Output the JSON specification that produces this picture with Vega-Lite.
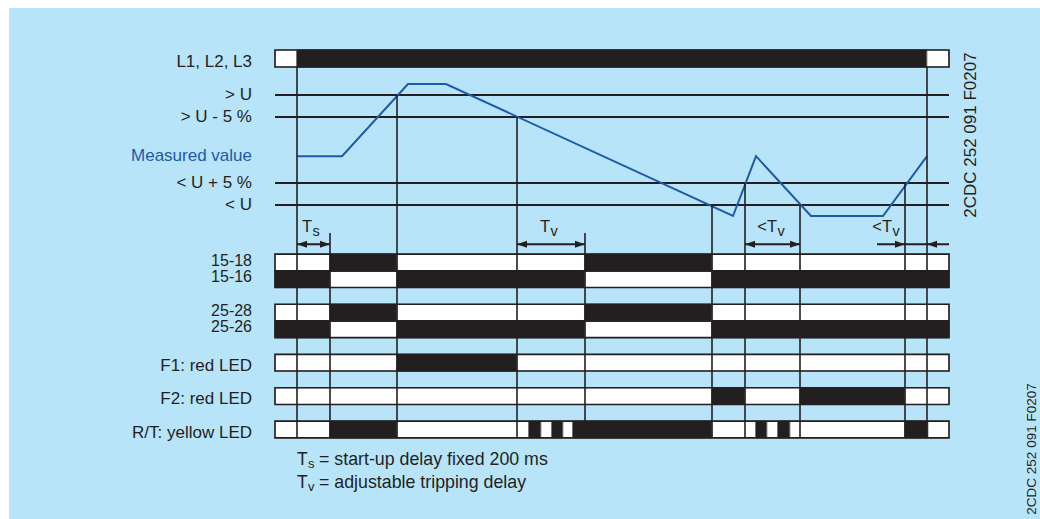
{
  "$schema": "https://vega.github.io/schema/vega-lite/v6.json",
  "width": 1031,
  "height": 511,
  "autosize": {"type": "none"},
  "padding": {"left": 9, "top": 8, "right": 0, "bottom": 0},
  "background": "#ffffff",
  "config": {
    "view": {"fill": "#b8e4f9", "stroke": null},
    "text": {"font": "Liberation Sans", "color": "#231f20", "fontSize": 17}
  },
  "datasets": {
    "thresholds": [
      {"label": "> U", "level": 110, "kind": "limit"},
      {"label": "> U - 5 %", "level": 105, "kind": "limit"},
      {"label": "Measured value", "level": 96.1, "kind": "signal"},
      {"label": "< U + 5 %", "level": 90, "kind": "limit"},
      {"label": "< U", "level": 85, "kind": "limit"}
    ],
    "measured": [
      {"t": 22, "level": 96.1},
      {"t": 67, "level": 96.1},
      {"t": 133, "level": 112.5},
      {"t": 171, "level": 112.5},
      {"t": 458, "level": 82.5},
      {"t": 481, "level": 96.1},
      {"t": 536, "level": 82.5},
      {"t": 608, "level": 82.5},
      {"t": 652, "level": 96.1}
    ],
    "events": [
      {"t": 22, "level": 116.4},
      {"t": 55, "level": 78.64},
      {"t": 122, "level": 110},
      {"t": 242, "level": 105},
      {"t": 310, "level": 78.64},
      {"t": 437, "level": 85},
      {"t": 470, "level": 90},
      {"t": 525, "level": 85},
      {"t": 630, "level": 90},
      {"t": 652, "level": 116.4}
    ],
    "supply": [
      {"lane": "L1, L2, L3", "t": 0, "t2": 22, "state": "off"},
      {"lane": "L1, L2, L3", "t": 22, "t2": 652, "state": "on"},
      {"lane": "L1, L2, L3", "t": 652, "t2": 674, "state": "off"}
    ],
    "lanes": [
      {"lane": "L1, L2, L3", "group": "supply"},
      {"lane": "15-18", "group": "contact"},
      {"lane": "15-16", "group": "contact"},
      {"lane": "25-28", "group": "contact"},
      {"lane": "25-26", "group": "contact"},
      {"lane": "F1: red LED", "group": "led"},
      {"lane": "F2: red LED", "group": "led"},
      {"lane": "R/T: yellow LED", "group": "led"}
    ],
    "signals": [
      {"lane": "15-18", "t": 0, "t2": 55, "state": "off"},
      {"lane": "15-18", "t": 55, "t2": 122, "state": "on"},
      {"lane": "15-18", "t": 122, "t2": 310, "state": "off"},
      {"lane": "15-18", "t": 310, "t2": 437, "state": "on"},
      {"lane": "15-18", "t": 437, "t2": 674, "state": "off"},
      {"lane": "15-16", "t": 0, "t2": 55, "state": "on"},
      {"lane": "15-16", "t": 55, "t2": 122, "state": "off"},
      {"lane": "15-16", "t": 122, "t2": 310, "state": "on"},
      {"lane": "15-16", "t": 310, "t2": 437, "state": "off"},
      {"lane": "15-16", "t": 437, "t2": 674, "state": "on"},
      {"lane": "25-28", "t": 0, "t2": 55, "state": "off"},
      {"lane": "25-28", "t": 55, "t2": 122, "state": "on"},
      {"lane": "25-28", "t": 122, "t2": 310, "state": "off"},
      {"lane": "25-28", "t": 310, "t2": 437, "state": "on"},
      {"lane": "25-28", "t": 437, "t2": 674, "state": "off"},
      {"lane": "25-26", "t": 0, "t2": 55, "state": "on"},
      {"lane": "25-26", "t": 55, "t2": 122, "state": "off"},
      {"lane": "25-26", "t": 122, "t2": 310, "state": "on"},
      {"lane": "25-26", "t": 310, "t2": 437, "state": "off"},
      {"lane": "25-26", "t": 437, "t2": 674, "state": "on"},
      {"lane": "F1: red LED", "t": 0, "t2": 122, "state": "off"},
      {"lane": "F1: red LED", "t": 122, "t2": 242, "state": "on"},
      {"lane": "F1: red LED", "t": 242, "t2": 674, "state": "off"},
      {"lane": "F2: red LED", "t": 0, "t2": 437, "state": "off"},
      {"lane": "F2: red LED", "t": 437, "t2": 470, "state": "on"},
      {"lane": "F2: red LED", "t": 470, "t2": 525, "state": "off"},
      {"lane": "F2: red LED", "t": 525, "t2": 630, "state": "on"},
      {"lane": "F2: red LED", "t": 630, "t2": 674, "state": "off"},
      {"lane": "R/T: yellow LED", "t": 0, "t2": 55, "state": "off"},
      {"lane": "R/T: yellow LED", "t": 55, "t2": 122, "state": "on"},
      {"lane": "R/T: yellow LED", "t": 122, "t2": 254, "state": "off"},
      {"lane": "R/T: yellow LED", "t": 254, "t2": 266, "state": "on"},
      {"lane": "R/T: yellow LED", "t": 266, "t2": 277, "state": "off"},
      {"lane": "R/T: yellow LED", "t": 277, "t2": 288, "state": "on"},
      {"lane": "R/T: yellow LED", "t": 288, "t2": 298, "state": "off"},
      {"lane": "R/T: yellow LED", "t": 298, "t2": 437, "state": "on"},
      {"lane": "R/T: yellow LED", "t": 437, "t2": 481, "state": "off"},
      {"lane": "R/T: yellow LED", "t": 481, "t2": 492, "state": "on"},
      {"lane": "R/T: yellow LED", "t": 492, "t2": 503, "state": "off"},
      {"lane": "R/T: yellow LED", "t": 503, "t2": 515, "state": "on"},
      {"lane": "R/T: yellow LED", "t": 515, "t2": 630, "state": "off"},
      {"lane": "R/T: yellow LED", "t": 630, "t2": 653, "state": "on"},
      {"lane": "R/T: yellow LED", "t": 653, "t2": 674, "state": "off"}
    ],
    "spans": [
      {"lane": "arrow", "t": 22, "t2": 55},
      {"lane": "arrow", "t": 242, "t2": 310},
      {"lane": "arrow", "t": 470, "t2": 525},
      {"lane": "arrow", "t": 602, "t2": 674}
    ],
    "heads": [
      {"lane": "arrow", "t": 22, "dir": "left"},
      {"lane": "arrow", "t": 55, "dir": "right"},
      {"lane": "arrow", "t": 242, "dir": "left"},
      {"lane": "arrow", "t": 310, "dir": "right"},
      {"lane": "arrow", "t": 470, "dir": "left"},
      {"lane": "arrow", "t": 525, "dir": "right"},
      {"lane": "arrow", "t": 630, "dir": "right"},
      {"lane": "arrow", "t": 652, "dir": "left"}
    ],
    "delays": [
      {"lane": "Tlabel", "t": 37, "main": "T", "sub": "s"},
      {"lane": "Tlabel", "t": 275, "main": "T", "sub": "v"},
      {"lane": "Tlabel", "t": 502, "main": "<T", "sub": "v"},
      {"lane": "Tlabel", "t": 617, "main": "<T", "sub": "v"}
    ],
    "notes": [
      {"name": "Ts", "sym": "T", "sub": "s", "text": "= start-up delay fixed 200 ms"},
      {"name": "Tv", "sym": "T", "sub": "v", "text": "= adjustable tripping delay"}
    ],
    "codes": [
      {"code": "2CDC 252 091 F0207"}
    ]
  },
  "layer": [
    {
      "encoding": {
        "y": {"field": "level", "type": "quantitative", "scale": {"domain": [13.636, 129.773], "nice": false, "zero": false}, "axis": null}
      },
      "layer": [
        {
          "data": {"name": "thresholds"},
          "transform": [{"filter": "datum.kind === 'limit'"}],
          "mark": {"type": "rule", "color": "#231f20", "strokeWidth": 2},
          "encoding": {
            "x": {"datum": 0, "type": "quantitative", "scale": {"domain": [-266, 765], "nice": false, "zero": false}, "axis": null},
            "x2": {"datum": 674}
          }
        },
        {
          "data": {"name": "thresholds"},
          "mark": {"type": "text", "align": "right", "baseline": "middle", "dx": -23, "fontSize": 17},
          "encoding": {
            "x": {"datum": 0, "type": "quantitative", "scale": {"domain": [-266, 765], "nice": false, "zero": false}, "axis": null},
            "text": {"field": "label"},
            "color": {"condition": {"test": "datum.kind === 'signal'", "value": "#1d5aa8"}, "value": "#231f20"}
          }
        },
        {
          "data": {"name": "measured"},
          "mark": {"type": "line", "color": "#1d5aa8", "strokeWidth": 2},
          "encoding": {
            "x": {"field": "t", "type": "quantitative", "scale": {"domain": [-266, 765], "nice": false, "zero": false}, "axis": null}
          }
        }
      ]
    },
    {
      "encoding": {
        "y": {"field": "lane", "type": "nominal", "scale": {"domain": ["L1, L2, L3"], "range": [42, 59], "paddingInner": 0, "paddingOuter": 0}, "axis": null}
      },
      "layer": [
        {
          "data": {"name": "supply"},
          "mark": {"type": "rect", "strokeWidth": 1},
          "encoding": {
            "x": {"field": "t", "type": "quantitative", "scale": {"domain": [-266, 765], "nice": false, "zero": false}, "axis": null},
            "x2": {"field": "t2"},
            "fill": {"field": "state", "type": "nominal", "scale": {"domain": ["off", "on"], "range": ["#ffffff", "#231f20"]}, "legend": null},
            "stroke": {"field": "state", "type": "nominal", "scale": {"domain": ["off", "on"], "range": ["#939598", "#231f20"]}, "legend": null}
          }
        },
        {
          "data": {"name": "lanes"},
          "transform": [{"filter": "datum.group === 'supply'"}],
          "mark": {"type": "rect", "fillOpacity": 0, "stroke": "#231f20", "strokeWidth": 1.6},
          "encoding": {
            "x": {"datum": 0, "type": "quantitative", "scale": {"domain": [-266, 765], "nice": false, "zero": false}, "axis": null},
            "x2": {"datum": 674}
          }
        },
        {
          "data": {"name": "lanes"},
          "transform": [{"filter": "datum.group === 'supply'"}],
          "mark": {"type": "text", "align": "right", "baseline": "middle", "dx": -23, "dy": 3, "fontSize": 17, "color": "#231f20"},
          "encoding": {
            "x": {"datum": 0, "type": "quantitative", "scale": {"domain": [-266, 765], "nice": false, "zero": false}, "axis": null},
            "text": {"field": "lane"}
          }
        }
      ]
    },
    {
      "encoding": {
        "y": {
          "field": "lane", "type": "nominal",
          "scale": {
            "domain": ["Tlabel", "arrow", "15-18", "15-16", "gap1", "25-28", "25-26", "gap2", "F1: red LED", "gap3", "F2: red LED", "gap4", "R/T: yellow LED"],
            "range": [212.75, 429.85], "paddingInner": 0, "paddingOuter": 0
          },
          "axis": null
        }
      },
      "layer": [
        {
          "data": {"name": "signals"},
          "mark": {"type": "rect", "strokeWidth": 1},
          "encoding": {
            "x": {"field": "t", "type": "quantitative", "scale": {"domain": [-266, 765], "nice": false, "zero": false}, "axis": null},
            "x2": {"field": "t2"},
            "fill": {"field": "state", "type": "nominal", "scale": {"domain": ["off", "on"], "range": ["#ffffff", "#231f20"]}, "legend": null},
            "stroke": {"field": "state", "type": "nominal", "scale": {"domain": ["off", "on"], "range": ["#939598", "#231f20"]}, "legend": null}
          }
        },
        {
          "data": {"name": "lanes"},
          "transform": [{"filter": "datum.group !== 'supply'"}],
          "mark": {"type": "rect", "fillOpacity": 0, "stroke": "#231f20", "strokeWidth": 1.6},
          "encoding": {
            "x": {"datum": 0, "type": "quantitative", "scale": {"domain": [-266, 765], "nice": false, "zero": false}, "axis": null},
            "x2": {"datum": 674}
          }
        },
        {
          "data": {"name": "lanes"},
          "transform": [{"filter": "datum.group === 'contact'"}],
          "mark": {"type": "text", "align": "right", "baseline": "middle", "dx": -23, "dy": -2, "fontSize": 16, "color": "#231f20"},
          "encoding": {
            "x": {"datum": 0, "type": "quantitative", "scale": {"domain": [-266, 765], "nice": false, "zero": false}, "axis": null},
            "text": {"field": "lane"}
          }
        },
        {
          "data": {"name": "lanes"},
          "transform": [{"filter": "datum.group === 'led'"}],
          "mark": {"type": "text", "align": "right", "baseline": "middle", "dx": -23, "dy": 3, "fontSize": 17, "color": "#231f20"},
          "encoding": {
            "x": {"datum": 0, "type": "quantitative", "scale": {"domain": [-266, 765], "nice": false, "zero": false}, "axis": null},
            "text": {"field": "lane"}
          }
        },
        {
          "data": {"name": "spans"},
          "mark": {"type": "rule", "color": "#231f20", "strokeWidth": 2},
          "encoding": {
            "x": {"field": "t", "type": "quantitative", "scale": {"domain": [-266, 765], "nice": false, "zero": false}, "axis": null},
            "x2": {"field": "t2"},
            "y": {"field": "lane", "type": "nominal", "bandPosition": 0.41}
          }
        },
        {
          "data": {"name": "heads"},
          "mark": {"type": "point", "filled": true, "color": "#231f20", "opacity": 1, "size": 100, "strokeWidth": 0},
          "encoding": {
            "x": {"field": "t", "type": "quantitative", "scale": {"domain": [-266, 765], "nice": false, "zero": false}, "axis": null},
            "y": {"field": "lane", "type": "nominal", "bandPosition": 0.41},
            "shape": {"field": "dir", "type": "nominal", "scale": {"domain": ["left", "right"], "range": ["M0,0L2,-0.7L2,0.7Z", "M0,0L-2,-0.7L-2,0.7Z"]}, "legend": null}
          }
        },
        {
          "data": {"name": "delays"},
          "mark": {"type": "text", "align": "right", "baseline": "alphabetic", "dy": 3, "fontSize": 16.5, "color": "#231f20"},
          "encoding": {
            "x": {"field": "t", "type": "quantitative", "scale": {"domain": [-266, 765], "nice": false, "zero": false}, "axis": null},
            "text": {"field": "main"}
          }
        },
        {
          "data": {"name": "delays"},
          "mark": {"type": "text", "align": "left", "baseline": "alphabetic", "dx": 0.5, "dy": 7, "fontSize": 14.5, "color": "#231f20"},
          "encoding": {
            "x": {"field": "t", "type": "quantitative", "scale": {"domain": [-266, 765], "nice": false, "zero": false}, "axis": null},
            "text": {"field": "sub"}
          }
        }
      ]
    },
    {
      "data": {"name": "notes"},
      "encoding": {
        "x": {"datum": 22, "type": "quantitative", "scale": {"domain": [-266, 765], "nice": false, "zero": false}, "axis": null},
        "y": {"field": "name", "type": "nominal", "scale": {"domain": ["Ts", "Tv"], "range": [445.65, 491.05], "paddingInner": 0, "paddingOuter": 0}, "axis": null}
      },
      "layer": [
        {
          "mark": {"type": "text", "align": "left", "baseline": "alphabetic", "fontSize": 17.5, "color": "#231f20"},
          "encoding": {"text": {"field": "sym"}}
        },
        {
          "mark": {"type": "text", "align": "left", "baseline": "alphabetic", "dx": 11, "dy": 3, "fontSize": 13, "color": "#231f20"},
          "encoding": {"text": {"field": "sub"}}
        },
        {
          "mark": {"type": "text", "align": "left", "baseline": "alphabetic", "dx": 22, "fontSize": 17.8, "color": "#231f20"},
          "encoding": {"text": {"field": "text"}}
        }
      ]
    },
    {
      "data": {"name": "events"},
      "mark": {"type": "rule", "color": "#231f20", "strokeWidth": 1.6},
      "encoding": {
        "x": {"field": "t", "type": "quantitative", "scale": {"domain": [-266, 765], "nice": false, "zero": false}, "axis": null},
        "y": {"field": "level", "type": "quantitative", "scale": {"domain": [13.636, 129.773], "nice": false, "zero": false}, "axis": null},
        "y2": {"datum": 32.05}
      }
    },
    {
      "data": {"name": "codes"},
      "mark": {"type": "text", "angle": 270, "align": "center", "baseline": "middle", "fontSize": 17, "color": "#231f20"},
      "encoding": {
        "x": {"datum": 696, "type": "quantitative", "scale": {"domain": [-266, 765], "nice": false, "zero": false}, "axis": null},
        "y": {"datum": 100.9, "type": "quantitative", "scale": {"domain": [13.636, 129.773], "nice": false, "zero": false}, "axis": null},
        "text": {"field": "code"}
      }
    },
    {
      "data": {"name": "codes"},
      "mark": {"type": "text", "angle": 270, "align": "center", "baseline": "middle", "fontSize": 13.5, "color": "#231f20"},
      "encoding": {
        "x": {"datum": 757, "type": "quantitative", "scale": {"domain": [-266, 765], "nice": false, "zero": false}, "axis": null},
        "y": {"datum": 29.55, "type": "quantitative", "scale": {"domain": [13.636, 129.773], "nice": false, "zero": false}, "axis": null},
        "text": {"field": "code"}
      }
    }
  ],
  "resolve": {"scale": {"y": "independent"}}
}
